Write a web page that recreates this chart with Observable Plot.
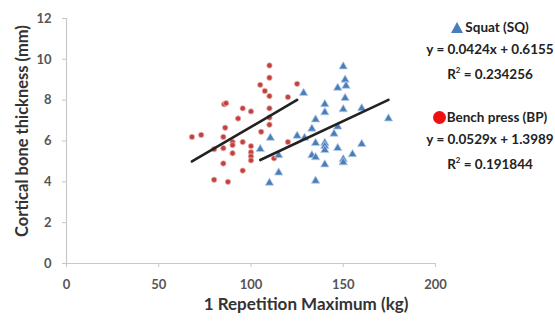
<!DOCTYPE html>
<html>
<head>
<meta charset="utf-8">
<script src="https://cdn.jsdelivr.net/npm/d3@7"></script>
<script src="https://cdn.jsdelivr.net/npm/@observablehq/plot@0.6"></script>
<style>
  html, body { margin: 0; padding: 0; background: #fff; }
  #wrap { position: relative; width: 555px; height: 325px; font-family: Lato, "Open Sans", sans-serif; }
  #legend { position: absolute; left: 420px; top: 17px; width: 140px; text-align: center; font-weight: bold; color: #222; font-size: 13.5px; line-height: 21.5px; }
  .gap { height: 22px; }
  .tri { display: inline-block; width: 0; height: 0; border-left: 6px solid transparent; border-right: 6px solid transparent; border-bottom: 11px solid #4a7ebb; margin-right: 2px; vertical-align: -1px; }
  .dot { display: inline-block; width: 13px; height: 13px; border-radius: 50%; background: #ee1111; margin-right: 1px; vertical-align: -2px; }
</style>
</head>
<body>
<div id="wrap"><div id="legend"></div></div>
<script>
// Bench press (BP): [1RM kg, cortical bone thickness mm]
const benchX = [110,110,105,107.5,110,125,120,85.5,86.5,95.5,100,110,93,110,110,86,105.5,68,73,85,90,90,95.5,85,100,80,90,100,100,100,120,112.5,85,95.5,80,87.5];
const benchY = [9.7,9.1,8.75,8.45,8.2,8.8,8.15,7.8,7.85,7.6,7.45,7.6,7.1,7.15,6.8,6.65,6.45,6.2,6.3,6.2,5.95,5.8,5.95,5.65,5.75,5.6,5.4,5.45,5.25,5.05,5.95,5.15,4.9,4.55,4.1,4.0];
// Squat (SQ)
const squatX = [150,151,147,151.5,151,128.5,140,140,150,160,174.5,135,147,133,145,125,129,110.5,135,140,140,140,147,160,105,115,133,135,155,150,150,140,115,110,135];
const squatY = [9.65,9.0,8.6,8.7,8.1,8.35,7.8,7.4,7.55,7.6,7.1,7.05,6.7,6.6,6.35,6.25,6.15,6.15,5.9,5.9,5.75,5.55,5.65,5.85,5.6,5.3,5.3,5.2,5.35,5.1,4.95,4.85,4.45,3.95,4.05];

// Regression equations as printed
const seriesNames = ["Squat (SQ)", "Bench press (BP)"];
const slopes = [0.0424, 0.0529];
const intercepts = [0.6155, 1.3989];
const rSquared = ["0.234256", "0.191844"];

const xTicks = [0, 50, 100, 150, 200];
const yTicks = [0, 2, 4, 6, 8, 10, 12];
const xLabel = "1 Repetition Maximum (kg)";
const yLabel = "Cortical bone thickness (mm)";

const bench = benchX.map((x, i) => ({x, y: benchY[i]}));
const squat = squatX.map((x, i) => ({x, y: squatY[i]}));

function fitLine(xs, k) {
  const lo = d3.min(xs), hi = d3.max(xs);
  return [lo, hi].map(x => ({x, y: slopes[k] * x + intercepts[k]}));
}
const squatLine = fitLine(squatX, 0);
const benchLine = fitLine(benchX, 1);

const axisColor = "#c8c8c8";

const chart = Plot.plot({
  width: 555,
  height: 325,
  marginLeft: 66,
  marginRight: 120,
  marginTop: 18,
  marginBottom: 62,
  style: {fontFamily: "Lato, 'Open Sans', sans-serif", background: "#fff"},
  x: {domain: [0, 200]},
  y: {domain: [0, 12]},
  marks: [
    Plot.ruleY([0], {stroke: axisColor, strokeWidth: 1.2}),
    Plot.ruleX([0], {stroke: axisColor, strokeWidth: 1.2}),
    Plot.axisX({ticks: xTicks, tickSize: 4, tickPadding: 12, stroke: axisColor, fill: "#555", fontSize: 13, fontWeight: "bold", label: null}),
    Plot.axisY({ticks: yTicks, tickSize: 4, tickPadding: 11, stroke: axisColor, fill: "#555", fontSize: 13, fontWeight: "bold", label: null}),
    Plot.text([yLabel], {frameAnchor: "left", textAnchor: "middle", rotate: -90, dx: -44, dy: -10, fontSize: 16.5, fontWeight: "bold", fill: "#333"}),
    Plot.text([xLabel], {frameAnchor: "bottom", textAnchor: "middle", dx: 55, dy: 46, fontSize: 17, fontWeight: "bold", fill: "#333"}),
    Plot.dot(bench, {x: "x", y: "y", r: 2.7, fill: "#c0413e", stroke: "#e9b3b1", strokeWidth: 0.8}),
    Plot.dot(squat, {x: "x", y: "y", r: 3.1, symbol: "triangle", fill: "#4a7ebb", stroke: "#b7cde8", strokeWidth: 0.8}),
    Plot.line(benchLine, {x: "x", y: "y", stroke: "#222", strokeWidth: 2.6}),
    Plot.line(squatLine, {x: "x", y: "y", stroke: "#222", strokeWidth: 2.6})
  ]
});
const wrap = document.getElementById("wrap");
wrap.insertBefore(chart, wrap.firstChild);

const legend = document.getElementById("legend");
const fmt = k => `y = ${slopes[k]}x + ${intercepts[k]}`;
legend.innerHTML =
  `<div><span class="tri"></span>${seriesNames[0]}</div>` +
  `<div>${fmt(0)}</div>` +
  `<div>R<sup style="font-size:8px">2</sup> = ${rSquared[0]}</div>` +
  `<div class="gap"></div>` +
  `<div><span class="dot"></span>${seriesNames[1]}</div>` +
  `<div>${fmt(1)}</div>` +
  `<div>R<sup style="font-size:8px">2</sup> = ${rSquared[1]}</div>`;
</script>
</body>
</html>
